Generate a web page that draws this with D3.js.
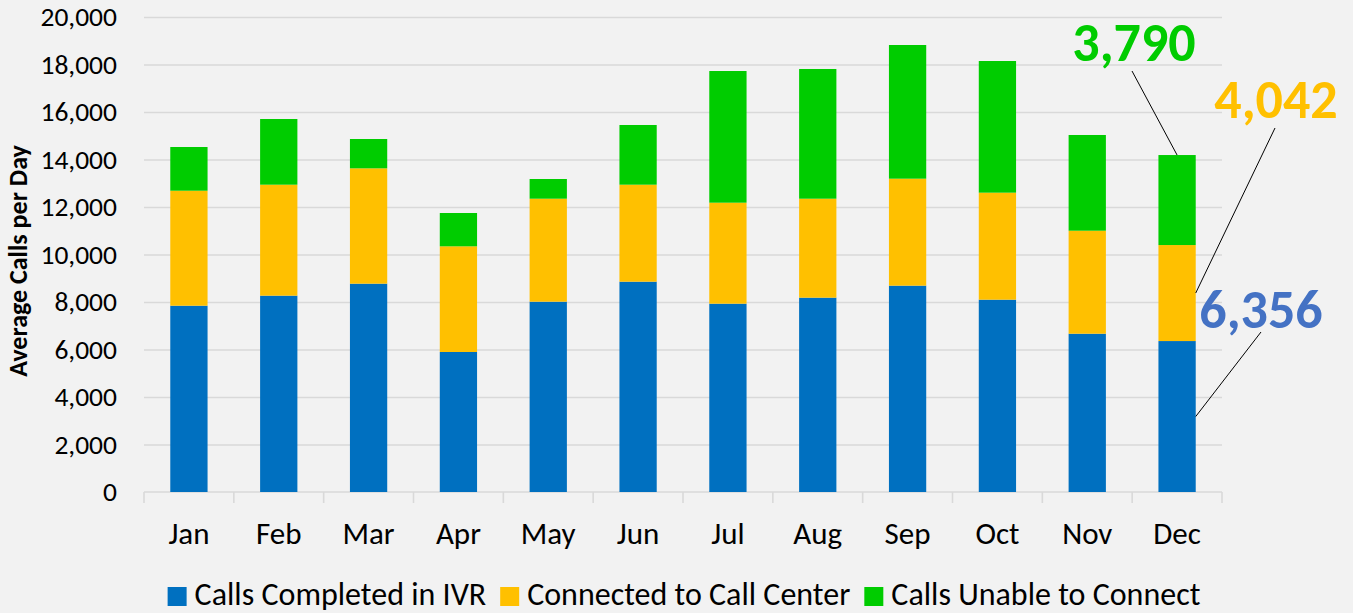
<!DOCTYPE html>
<html>
<head>
<meta charset="utf-8">
<script src="https://cdn.jsdelivr.net/npm/d3@7"></script>
<style>
  html, body { margin: 0; padding: 0; background: #F2F2F2; }
  svg { display: block; font-family: Carlito, Calibri, Lato, sans-serif; }
</style>
</head>
<body>
<svg id="chart" width="1353" height="613"></svg>
<script>
const months = ["Jan","Feb","Mar","Apr","May","Jun","Jul","Aug","Sep","Oct","Nov","Dec"];
const completedIVR = [7844, 8267, 8772, 5895, 8014, 8856, 7929, 8183, 8688, 8098, 6665, 6356];
const connectedCC  = [4842, 4673, 4857, 4450, 4336, 4084, 4253, 4167, 4505, 4506, 4337, 4042];
const unableConnect= [1840, 2765, 1234, 1402,  829, 2513, 5544, 5461, 5628, 5543, 4030, 3790];
const seriesNames = ["Calls Completed in IVR", "Connected to Call Center", "Calls Unable to Connect"];
const seriesColors = ["#0070C0", "#FFC000", "#00CC00"];
const labelColors = ["#4472C4", "#FFC000", "#00CC00"];
const yTicks = [0, 2000, 4000, 6000, 8000, 10000, 12000, 14000, 16000, 18000, 20000];

const FONT = "Carlito, Calibri, Lato, sans-serif";
const svg = d3.select("#chart");
const pLeft = 144, pRight = 1222, pTop = 17, pBottom = 492;

const x = d3.scaleBand().domain(months).range([pLeft, pRight]).paddingInner(0.585).paddingOuter(0.2925);
const y = d3.scaleLinear().domain([0, 20000]).range([pBottom, pTop]);

const rows = months.map((m, i) => ({month: m, s0: completedIVR[i], s1: connectedCC[i], s2: unableConnect[i]}));
const stacked = d3.stack().keys(["s0", "s1", "s2"])(rows);

// gridlines + y tick labels
const yAxis = d3.axisLeft(y).tickValues(yTicks).tickFormat(d3.format(",")).tickSize(-(pRight - pLeft)).tickPadding(27);
const gy = svg.append("g").attr("transform", `translate(${pLeft},0)`).call(yAxis);
gy.select(".domain").remove();
gy.selectAll(".tick line").attr("stroke", "#D9D9D9").attr("stroke-width", 1.6)
  .attr("display", d => d === 0 ? "none" : null);
gy.selectAll(".tick text").attr("fill", "#000").attr("font-size", 27.5).style("font-family", FONT);

// bottom axis line with boundary ticks
svg.append("line").attr("x1", pLeft).attr("x2", pRight).attr("y1", y(0)).attr("y2", y(0))
  .attr("stroke", "#D9D9D9").attr("stroke-width", 1.6);
const bounds = d3.range(months.length + 1).map(i => x.range()[0] + i * x.step());
svg.append("g").selectAll("line").data(bounds).join("line")
  .attr("x1", d => d).attr("x2", d => d).attr("y1", y(0)).attr("y2", y(0) + 11)
  .attr("stroke", "#D9D9D9").attr("stroke-width", 1.6);

// bars
svg.append("g").selectAll("g").data(stacked).join("g")
  .attr("fill", (d, i) => seriesColors[i])
  .selectAll("rect").data(d => d).join("rect")
  .attr("x", d => x(d.data.month))
  .attr("width", x.bandwidth())
  .attr("y", d => y(d[1]))
  .attr("height", d => y(d[0]) - y(d[1]));

// x labels
const xAxis = d3.axisBottom(x).tickSize(0).tickPadding(30);
const gx = svg.append("g").attr("transform", `translate(0,${pBottom})`).call(xAxis);
gx.select(".domain").remove();
gx.selectAll(".tick text").attr("fill", "#000").attr("font-size", 31).style("font-family", FONT);

// y title
svg.append("text")
  .attr("transform", `translate(27,261) rotate(-90)`)
  .attr("text-anchor", "middle")
  .attr("font-size", 26).attr("font-weight", "bold").attr("fill", "#000")
  .text("Average Calls per Day");

// Dec data labels with leader lines
const di = months.length - 1;
const dec = months[di];
const bx = x(dec), bw = x.bandwidth();
const anchors = [
  {sx: bx + bw, sy: (y(stacked[0][di][0]) + y(stacked[0][di][1])) / 2, lx: 1261, ly: 332, tx: 1261, ty: 328},
  {sx: bx + bw, sy: (y(stacked[1][di][0]) + y(stacked[1][di][1])) / 2, lx: 1275, ly: 128, tx: 1276, ty: 118},
  {sx: bx + bw / 2, sy: y(stacked[2][di][1]), lx: 1132, ly: 71, tx: 1134, ty: 61}
];
const decVals = [completedIVR[di], connectedCC[di], unableConnect[di]];
const lab = svg.append("g");
anchors.forEach((a, i) => {
  lab.append("line").attr("x1", a.lx).attr("y1", a.ly).attr("x2", a.sx).attr("y2", a.sy)
    .attr("stroke", "#000").attr("stroke-width", 1);
  lab.append("text").attr("x", a.tx).attr("y", a.ty).attr("text-anchor", "middle")
    .attr("font-size", 54).attr("font-weight", "bold").attr("fill", labelColors[i])
    .text(d3.format(",")(decVals[i]));
});

// legend
const leg = svg.append("g");
let cx = 0;
seriesNames.forEach((n, i) => {
  const g = leg.append("g");
  g.append("rect").attr("x", 0).attr("y", -18).attr("width", 19).attr("height", 19).attr("fill", seriesColors[i]);
  const t = g.append("text").attr("x", 27).attr("y", 0).attr("font-size", 32).attr("fill", "#000").text(n);
  const w = 27 + t.node().getComputedTextLength();
  g.attr("transform", `translate(${cx},0)`);
  cx += w + 14;
});
const totalW = cx - 14;
leg.attr("transform", `translate(${684 - totalW / 2},605)`);
</script>
</body>
</html>
